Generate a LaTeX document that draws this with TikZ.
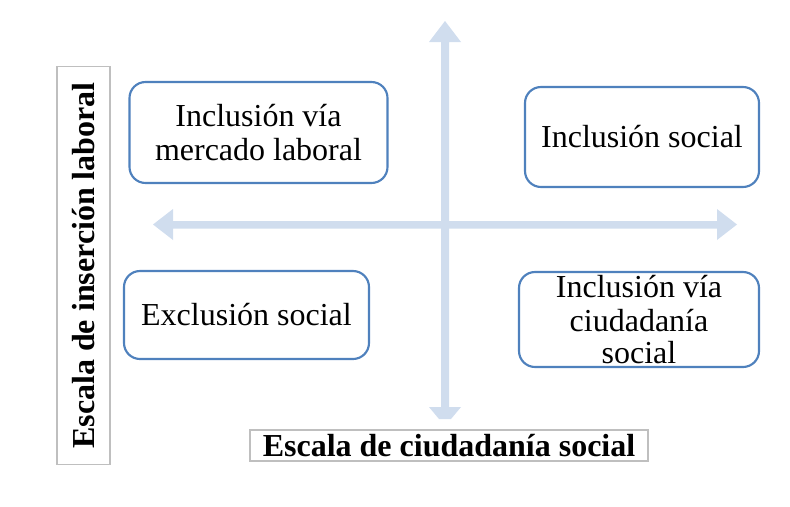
\documentclass[tikz,border=0pt]{standalone}
\usepackage{fontspec}
\setmainfont{Liberation Serif}
\definecolor{boxblue}{HTML}{4F81BD}
\definecolor{axisblue}{HTML}{D0DDEE}
\definecolor{lblgray}{HTML}{BFBFBF}
\begin{document}
\begin{tikzpicture}[x=0.75pt,y=-0.75pt,
  quad/.style={draw=boxblue,line width=1.6pt,rounded corners=12pt,fill=white,inner sep=0pt,align=center,font=\fontsize{24}{25.5}\selectfont},
  axislbl/.style={draw=lblgray,line width=0.8pt,inner sep=0pt,font=\fontsize{24}{26}\selectfont\bfseries}]
\useasboundingbox (0,0) rectangle (790,507);
% axes
\fill[axisblue] (153,224.5) -- (173,209) -- (173,221) -- (717,221) -- (717,209) -- (737,224.5) -- (717,240) -- (717,228.5) -- (173,228.5) -- (173,240) -- cycle;
\fill[axisblue] (445,21) -- (461,42) -- (449,42) -- (449,407) -- (461,407) -- (451,419) -- (439,419) -- (429,407) -- (441,407) -- (441,42) -- (429,42) -- cycle;
% quadrant boxes
\node[quad,minimum width=193.5pt,minimum height=75.75pt] (tl) at (258.5,132.5) {Inclusión vía\\mercado laboral};
\node[quad,minimum width=175.5pt,minimum height=75pt] (tr) at (642,137) {Inclusión social};
\node[quad,minimum width=183.75pt,minimum height=66pt] (bl) at (246.5,315) {Exclusión social};
\node[quad,minimum width=180pt,minimum height=71.25pt] (br) at (639,319.5) {Inclusión vía\\ciudadanía\\[-1.5pt]social};
% axis labels
\node[axislbl,minimum width=298.5pt,minimum height=23.25pt] (xl) at (449,445.5) {Escala de ciudadanía social};
\node[axislbl,rotate=90,minimum width=298.5pt,minimum height=39.75pt] (yl) at (83.5,265.5) {Escala de inserción laboral};
\end{tikzpicture}
\end{document}
